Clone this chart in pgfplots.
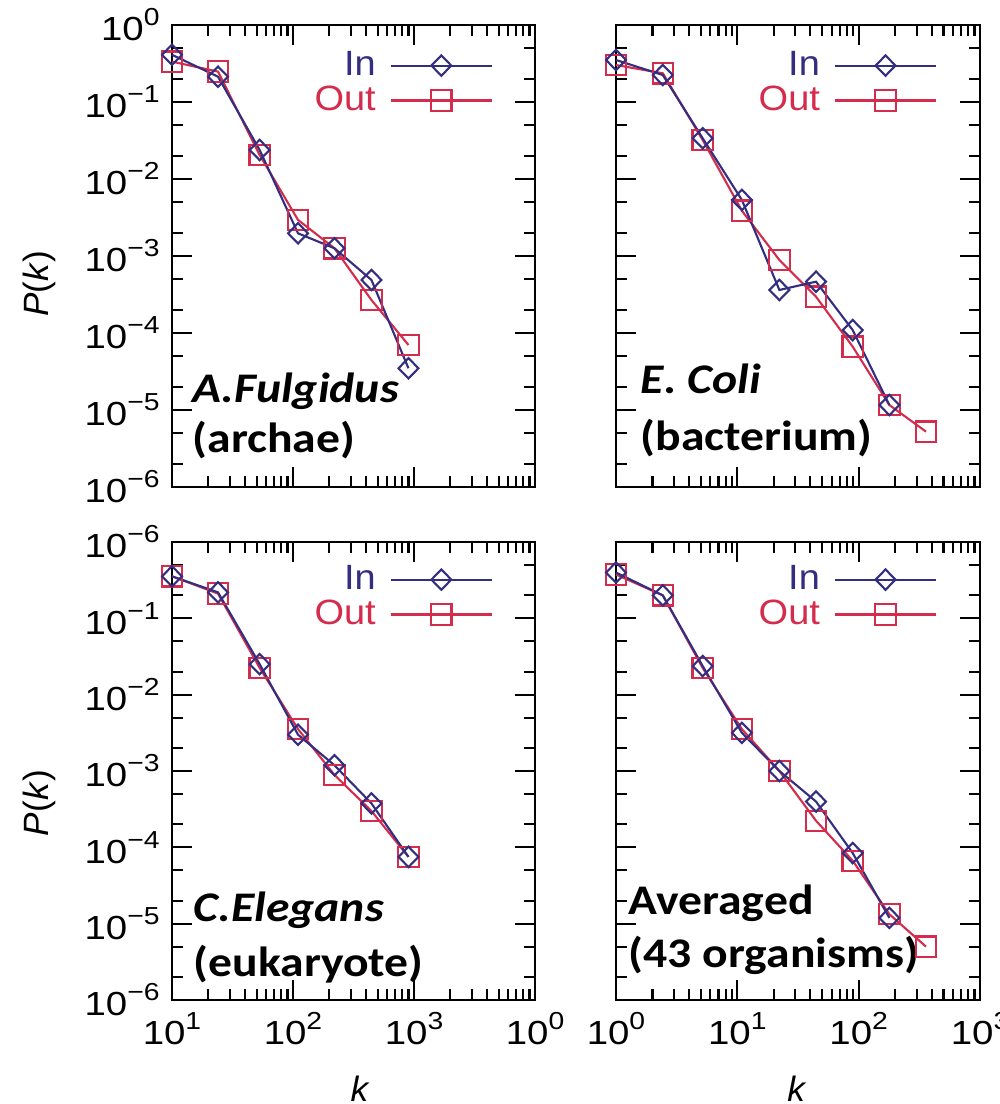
\documentclass[border=0pt]{standalone}
\usepackage{fontspec}
\setmainfont{Liberation Sans}
\newfontfamily\tickfont[FakeStretch=1.15]{Liberation Sans}
\newfontfamily\legfont[FakeStretch=1.08]{Liberation Sans}
\newfontfamily\calfont[FakeStretch=1.13]{Carlito}
\usepackage{pgfplots}
\pgfplotsset{compat=1.18}

\definecolor{inblue}{RGB}{52,46,128}
\definecolor{outred}{RGB}{212,44,76}

% tick label 10^n set in text font
\newcommand{\ep}[1]{10\raisebox{0.85ex}{\fontsize{7}{7}\selectfont #1}}

\pgfplotsset{
  every axis/.append style={
    xmode=log, ymode=log,
    scale only axis,
    ymin=1e-6, ymax=1,
    ytick={1e-6,1e-5,1e-4,1e-3,1e-2,1e-1,1},
    minor ytick={2e-6,5e-6,2e-5,5e-5,2e-4,5e-4,2e-3,5e-3,2e-2,5e-2,2e-1,5e-1},
    major tick length=0.2cm,
    minor tick length=0.11cm,
    axis line style={line width=0.75pt},
    tick style={black, line width=0.6pt},
    tick label style={font=\tickfont\fontsize{9.5}{10}\selectfont},
    label style={font=\fontsize{10}{11}\selectfont},
    legend plot pos=right,
    legend cell align=right,
    reverse legend,
    legend style={draw=none, fill=none, inner sep=0pt, outer sep=0pt,
      font=\legfont\fontsize{10}{11}\selectfont,
      nodes={inner sep=0pt, outer sep=0pt},
      row sep=1.5pt, column sep=4pt, anchor=north east},
    legend image code/.code={\draw[mark repeat=2,mark phase=2,##1]
      plot coordinates {(0cm,0cm) (0.505cm,0cm) (1.01cm,0cm)};},
    clip=false,
  },
}
\tikzset{
  inser/.style={inblue, line width=0.6pt, mark=diamond, mark size=2.9pt,
    mark options={solid, fill=none, xscale=1.3}},
  outser/.style={outred, line width=0.6pt, mark=square, mark size=2.9pt,
    mark options={solid, fill=none}},
  ann/.style={anchor=base west, inner sep=0pt, font=\calfont\bfseries\fontsize{12}{14}\selectfont},
  anni/.style={anchor=base west, inner sep=0pt, font=\calfont\bfseries\itshape\fontsize{12}{14}\selectfont},
}

\begin{document}
\begin{tikzpicture}

% --- top left: A. Fulgidus ---
\begin{axis}[at={(1.72cm,6.17cm)}, anchor=south west, width=3.63cm, height=4.62cm,
  xmin=10, xmax=10000, xtick={10,100,1000,10000},
  minor xtick={20,30,...,90,200,300,...,900,2000,3000,...,9000},
  xticklabels={},
  yticklabels={\ep{−6},\ep{−5},\ep{−4},\ep{−3},\ep{−2},\ep{−1},\ep{0}},
  ylabel={\textit{P}(\textit{k})},
  ylabel style={at={(axis description cs:-0.364,0.44)}, anchor=center},
  legend style={at={(axis description cs:0.884,0.944)}}]
\addplot[outser] coordinates {(10,0.334) (24,0.248) (53,0.0205) (110,2.94e-3) (220,1.26e-3) (445,2.68e-4) (900,6.98e-5)};
\addlegendentry{\textcolor{outred}{Out}}
\addplot[inser] coordinates {(10,0.41) (24,0.213) (53,0.0238) (110,1.97e-3) (220,1.26e-3) (445,4.88e-4) (900,3.48e-5)};
\addlegendentry{\textcolor{inblue}{In}}
\node[anni] at (axis description cs:0.055,0.182) {A.Fulgidus};
\node[ann] at (axis description cs:0.055,0.074) {(archae)};
\end{axis}

% --- top right: E. coli ---
\begin{axis}[at={(6.16cm,6.17cm)}, anchor=south west, width=3.64cm, height=4.62cm,
  xmin=1, xmax=1000, xtick={1,10,100,1000},
  minor xtick={2,3,...,9,20,30,...,90,200,300,...,900},
  xticklabels={}, yticklabels={},
  legend style={at={(axis description cs:0.882,0.944)}}]
\addplot[outser] coordinates {(1,0.302) (2.43,0.236) (5.18,0.0321) (10.9,3.87e-3) (22.2,8.87e-4) (44.5,2.96e-4) (89.3,6.64e-5) (179,1.16e-5) (359,5.23e-6)};
\addlegendentry{\textcolor{outred}{Out}}
\addplot[inser] coordinates {(1,0.351) (2.43,0.224) (5.18,0.0338) (10.9,5.34e-3) (22.2,3.62e-4) (44.5,4.64e-4) (89.3,1.09e-4) (179,1.16e-5)};
\addlegendentry{\textcolor{inblue}{In}}
\node[anni] at (axis description cs:0.066,0.203) {E. Coli};
\node[ann] at (axis description cs:0.066,0.08) {(bacterium)};
\end{axis}

% --- bottom left: C. elegans ---
\begin{axis}[at={(1.72cm,1.04cm)}, anchor=south west, width=3.63cm, height=4.58cm,
  xmin=10, xmax=10000, xtick={10,100,1000,10000},
  minor xtick={20,30,...,90,200,300,...,900,2000,3000,...,9000},
  xticklabels={\ep{1},\ep{2},\ep{3},\ep{0}},
  yticklabels={\ep{−6},\ep{−5},\ep{−4},\ep{−3},\ep{−2},\ep{−1},\ep{−6}},
  ylabel={\textit{P}(\textit{k})},
  ylabel style={at={(axis description cs:-0.364,0.43)}, anchor=center},
  xlabel={\textit{k}},
  xlabel style={at={(axis description cs:0.518,-0.193)}, anchor=center},
  legend style={at={(axis description cs:0.884,0.95)}}]
\addplot[outser] coordinates {(10,0.355) (24,0.211) (53,0.0224) (110,3.54e-3) (220,8.9e-4) (445,2.99e-4) (900,7.5e-5)};
\addlegendentry{\textcolor{outred}{Out}}
\addplot[inser] coordinates {(10,0.355) (24,0.219) (53,0.0251) (110,2.99e-3) (220,1.19e-3) (445,3.76e-4) (900,7.5e-5)};
\addlegendentry{\textcolor{inblue}{In}}
\node[anni] at (axis description cs:0.058,0.171) {C.Elegans};
\node[ann] at (axis description cs:0.058,0.051) {(eukaryote)};
\end{axis}

% --- bottom right: averaged ---
\begin{axis}[at={(6.16cm,1.04cm)}, anchor=south west, width=3.64cm, height=4.58cm,
  xmin=1, xmax=1000, xtick={1,10,100,1000},
  minor xtick={2,3,...,9,20,30,...,90,200,300,...,900},
  xticklabels={\ep{0},\ep{1},\ep{2},\ep{3}}, yticklabels={},
  xlabel={\textit{k}},
  xlabel style={at={(axis description cs:0.497,-0.193)}, anchor=center},
  legend style={at={(axis description cs:0.882,0.95)}}]
\addplot[outser] coordinates {(1,0.375) (2.43,0.2) (5.18,0.0224) (10.9,3.54e-3) (22.2,1.0e-3) (44.5,2.23e-4) (89.3,6.67e-5) (179,1.33e-5) (359,5.0e-6)};
\addlegendentry{\textcolor{outred}{Out}}
\addplot[inser] coordinates {(1,0.398) (2.43,0.2) (5.18,0.0237) (10.9,3.16e-3) (22.2,1.0e-3) (44.5,3.98e-4) (89.3,8.41e-5) (179,1.19e-5)};
\addlegendentry{\textcolor{inblue}{In}}
\node[ann] at (axis description cs:0.033,0.1875) {Averaged};
\node[ann] at (axis description cs:0.033,0.07) {(43 organisms)};
\end{axis}

% fix the page to the reference frame
\pgfresetboundingbox
\path[use as bounding box] (0,0) rectangle (10cm,11.04cm);
\end{tikzpicture}
\end{document}
